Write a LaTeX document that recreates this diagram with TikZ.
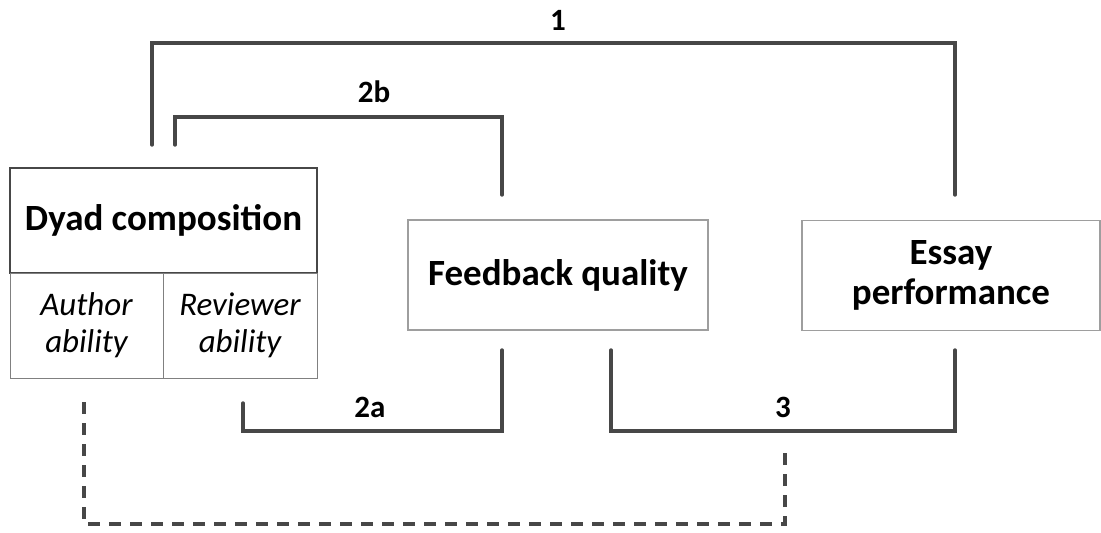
\documentclass[tikz,border=0pt]{standalone}
\usepackage{fontspec}
\setmainfont{Carlito}
\begin{document}
\begin{tikzpicture}[x=1pt,y=-1pt]
	\tikzstyle{every node}+=[inner sep=0pt]
	\tikzstyle{mainbox}=[draw=black!72, line width=1.8pt, font=\fontsize{37}{40}\selectfont\bfseries]
	\tikzstyle{subbox}=[draw=black!50, line width=1pt, align=center, font=\fontsize{33}{37}\selectfont\itshape]
	\tikzstyle{plainbox}=[draw=black!38, line width=1.3pt, align=center, font=\fontsize{37}{40}\selectfont\bfseries]
	\tikzstyle{lbl}=[font=\fontsize{31}{32}\selectfont\bfseries]
	\tikzstyle{link}=[draw=black!72, line width=3.4pt, line cap=round]
	\tikzstyle{dashlink}=[link, dash pattern=on 12pt off 9pt, line cap=butt]
	\useasboundingbox (0,0) rectangle (1101,533);
	% boxes
	\node[mainbox, minimum width=307, minimum height=105] (dyad) at (163.5,220.5) {Dyad composition};
	\node[subbox, minimum width=153, minimum height=105] (author) at (86.5,325.5) {Author\\ability};
	\node[subbox, minimum width=154, minimum height=105] (reviewer) at (240,325.5) {Reviewer\\ability};
	\node[plainbox, minimum width=300, minimum height=110] (feedback) at (558,275) {Feedback quality};
	\node[plainbox, minimum width=298, minimum height=110] (essay) at (951,275.5) {Essay\\performance};
	% free ends of the paths
	\coordinate (dy1) at (152,145);
	\coordinate (dy2) at (175,145);
	\coordinate (dy3) at (243,403);
	\coordinate (dy4) at (84,402);
	\coordinate (fb1) at (502,195);
	\coordinate (fb2) at (502,350);
	\coordinate (fb3) at (611,350);
	\coordinate (es1) at (955,195);
	\coordinate (es2) at (955,350);
	\coordinate (es3) at (785,453);
	% paths
	\draw[link] (dy1) -- ++(0,-102) -| (es1);
	\node[lbl] (p1) at (558,20) {1};
	\draw[link] (dy2) -- ++(0,-28) -| (fb1);
	\node[lbl] (p2b) at (374,92) {2b};
	\draw[link] (dy3) -- ++(0,28) -| (fb2);
	\node[lbl] (p2a) at (370,407) {2a};
	\draw[link] (fb3) -- ++(0,81) -| (es2);
	\node[lbl] (p3) at (783,407) {3};
	\draw[dashlink] (dy4) -- ++(0,122) -| (es3);
\end{tikzpicture}
\end{document}
